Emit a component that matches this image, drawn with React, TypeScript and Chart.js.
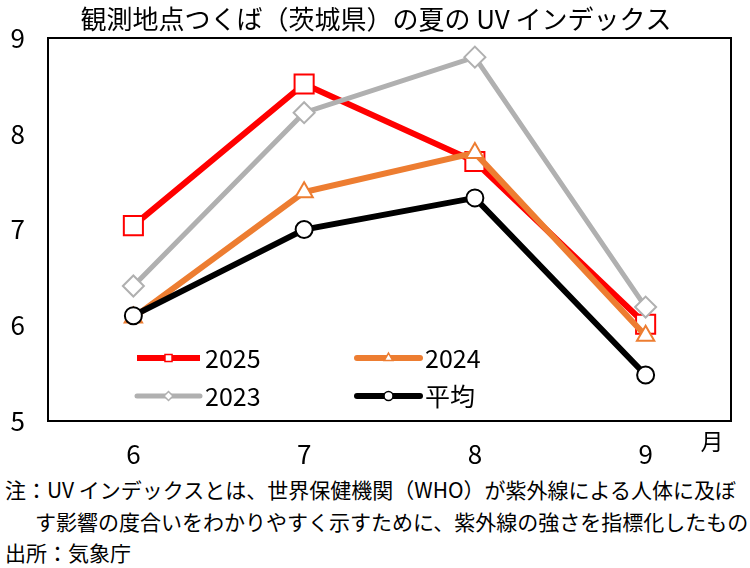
import { useEffect, useRef } from "react";
import { Chart, registerables, Plugin } from "chart.js";
import { drawPoint } from "chart.js/helpers";

Chart.register(...registerables);

const months = ["6", "7", "8", "9"];
const seriesNames = ["2025", "2024", "2023", "平均"];
const uv2025 = [7.04, 8.52, 7.71, 6.01];
const uv2024 = [6.08, 7.39, 7.8, 5.89];
const uv2023 = [6.41, 8.22, 8.8, 6.19];
const uvAverage = [6.1, 7.0, 7.33, 5.48];
const yTicks = [5, 6, 7, 8, 9];

const FONT = "'Noto Sans CJK JP', 'Noto Sans', sans-serif";

// frame, title, month label and the legend that sits inside the plot
const decorPlugin: Plugin<"line"> = {
  id: "decor",
  beforeDatasetsDraw(chart) {
    const { ctx, chartArea } = chart;
    ctx.save();
    ctx.strokeStyle = "#000";
    ctx.lineWidth = 2;
    ctx.strokeRect(chartArea.left, chartArea.top, chartArea.right - chartArea.left, chartArea.bottom - chartArea.top);
    ctx.restore();
  },
  afterDraw(chart) {
    const ctx = chart.ctx;
    ctx.save();
    ctx.fillStyle = "#000";
    ctx.textAlign = "center";
    ctx.textBaseline = "middle";
    ctx.font = `26px ${FONT}`;
    ctx.fillText("観測地点つくば（茨城県）の夏の UV インデックス", 376, 19);
    ctx.font = `23px ${FONT}`;
    ctx.fillText("月", 712, 441);

    const slots = [
      { x: 137, y: 358 },
      { x: 357, y: 358 },
      { x: 137, y: 396 },
      { x: 357, y: 396 },
    ];
    const markSizes = [5, 5, 4.5, 4.5];
    chart.data.datasets.forEach((ds: any, i: number) => {
      const { x, y } = slots[i];
      ctx.strokeStyle = ds.borderColor;
      ctx.lineWidth = ds.borderWidth;
      ctx.lineCap = i === 0 ? "butt" : "round";
      ctx.beginPath();
      ctx.moveTo(x, y);
      ctx.lineTo(x + 63, y);
      ctx.stroke();
      ctx.fillStyle = "#fff";
      ctx.lineWidth = 1.5;
      drawPoint(ctx, { pointStyle: ds.pointStyle, radius: markSizes[i], borderWidth: 1.5, rotation: 0 }, x + 31.5, y);
      ctx.fillStyle = "#000";
      ctx.textAlign = "left";
      ctx.font = `25px ${FONT}`;
      ctx.fillText(ds.label, x + 68, y);
    });
    ctx.restore();
  },
};

const App = () => {
  const chartRef = useRef<HTMLCanvasElement>(null);

  useEffect(() => {
    document.body.style.margin = "0";
    const ctx = chartRef.current?.getContext("2d");
    if (!ctx) return;

    const line = (label: string, data: number[], color: string, width: number, style: string, radius: number, order: number) => ({
      label,
      data,
      borderColor: color,
      borderWidth: width,
      pointStyle: style,
      pointRadius: radius,
      pointBackgroundColor: "#fff",
      pointBorderColor: color,
      pointBorderWidth: 2,
      tension: 0,
      order,
    });

    const chart = new Chart(ctx, {
      type: "line",
      data: {
        labels: months,
        datasets: [
          line(seriesNames[0], uv2025, "#FF0000", 6, "rect", 13.5, 4),
          line(seriesNames[1], uv2024, "#ED7D31", 6, "triangle", 10, 3),
          line(seriesNames[2], uv2023, "#B0B0B0", 5, "rectRot", 10.5, 2),
          line(seriesNames[3], uvAverage, "#000000", 6, "circle", 8.5, 1),
        ] as any,
      },
      options: {
        responsive: false,
        animation: false,
        layout: { autoPadding: false, padding: { top: 38, right: 19, left: 0, bottom: 0 } },
        plugins: {
          legend: { display: false },
          title: { display: false },
          tooltip: { enabled: false },
        },
        scales: {
          x: {
            offset: true,
            grid: { display: false },
            border: { display: false },
            ticks: { color: "#000", font: { size: 26, family: FONT }, padding: 10, maxRotation: 0 },
            afterFit: (scale) => {
              scale.height = 49;
            },
          },
          y: {
            min: yTicks[0],
            max: yTicks[yTicks.length - 1],
            grid: { display: false },
            border: { display: false },
            ticks: { stepSize: 1, color: "#000", font: { size: 26, family: FONT }, padding: 15 },
            afterFit: (scale) => {
              scale.width = 48;
            },
          },
        },
      },
      plugins: [decorPlugin],
    });

    return () => {
      chart.destroy();
    };
  }, []);

  const noteStyle = {
    position: "absolute" as const,
    left: 5,
    whiteSpace: "nowrap" as const,
    fontFamily: FONT,
    fontSize: "21px",
    lineHeight: "31px",
    color: "#000",
  };

  return (
    <div style={{ position: "relative", width: 750, height: 568, background: "#fff", overflow: "hidden" }}>
      <canvas ref={chartRef} width={750} height={470} style={{ position: "absolute", left: 0, top: 0, width: 750, height: 470 }} />
      <div style={{ ...noteStyle, top: 474 }}>注：UV インデックスとは、世界保健機関（WHO）が紫外線による人体に及ぼ</div>
      <div style={{ ...noteStyle, top: 506, left: 35 }}>す影響の度合いをわかりやすく示すために、紫外線の強さを指標化したもの</div>
      <div style={{ ...noteStyle, top: 537 }}>出所：気象庁</div>
    </div>
  );
};

export default App;
